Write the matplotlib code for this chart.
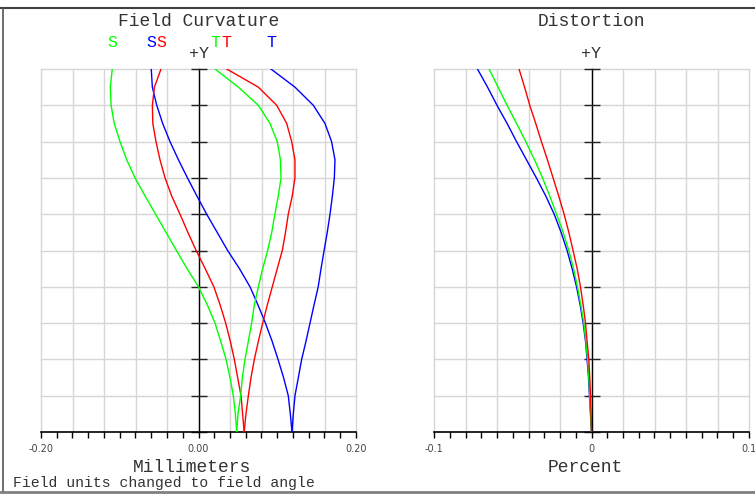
import numpy as np
import matplotlib
matplotlib.use('Agg')
import matplotlib.pyplot as plt
from matplotlib.lines import Line2D

# relative field (0 = axis, 1 = full field)
field_y = [0, 0.05, 0.1, 0.15, 0.2, 0.25, 0.3, 0.35, 0.4, 0.45, 0.5,
           0.55, 0.6, 0.65, 0.7, 0.75, 0.8, 0.85, 0.9, 0.95, 1.0]

# field curvature, millimeters
green_s = [0.0485, 0.0468, 0.0442, 0.040, 0.035, 0.0282, 0.021, 0.0112, 0.0, -0.0145, -0.0280,
           -0.0412, -0.0545, -0.0678, -0.0806, -0.0912, -0.0997, -0.107, -0.111, -0.112, -0.1095]
green_t = [0.0485, 0.0502, 0.0535, 0.0557, 0.059, 0.0633, 0.0675, 0.0709, 0.076, 0.0815, 0.0878,
           0.093, 0.097, 0.1013, 0.1048, 0.104, 0.1000, 0.0908, 0.076, 0.0506, 0.021]
red_s = [0.058, 0.056, 0.054, 0.0497, 0.0455, 0.0404, 0.0345, 0.0275, 0.0195, 0.0085, -0.003,
         -0.0135, -0.0235, -0.034, -0.0425, -0.0489, -0.054, -0.058, -0.0586, -0.056, -0.0476]
red_t = [0.058, 0.0603, 0.0633, 0.0667, 0.0709, 0.076, 0.0815, 0.0874, 0.0937, 0.100, 0.1064,
         0.1105, 0.114, 0.119, 0.1225, 0.1225, 0.1183, 0.112, 0.0993, 0.076, 0.0358]
blue_s = [0.1187, 0.1166, 0.114, 0.108, 0.101, 0.0935, 0.085, 0.0755, 0.0654, 0.052, 0.037,
          0.0237, 0.0104, -0.002, -0.014, -0.0255, -0.0362, -0.0455, -0.053, -0.0586, -0.060]
blue_t = [0.1187, 0.1204, 0.1225, 0.1268, 0.131, 0.1365, 0.1416, 0.1467, 0.152, 0.1556, 0.1595,
          0.1635, 0.167, 0.170, 0.1725, 0.1733, 0.169, 0.1606, 0.1458, 0.1225, 0.092]

# distortion, percent
dist_y = [0, 0.1, 0.15, 0.2, 0.25, 0.3, 0.35, 0.4, 0.45, 0.5,
          0.55, 0.6, 0.65, 0.7, 0.75, 0.8, 0.85, 0.9, 0.95, 1.0]
dist_blue = [0, -0.0013, -0.0019, -0.0028, -0.0038, -0.0053, -0.0072, -0.0095, -0.0123, -0.0155,
             -0.0193, -0.0237, -0.029, -0.035, -0.0413, -0.0476, -0.0536, -0.060, -0.066, -0.0724]
dist_green = [0, -0.0011, -0.0017, -0.0025, -0.0036, -0.0049, -0.0068, -0.0089, -0.0114, -0.0144,
              -0.018, -0.0222, -0.0265, -0.0311, -0.0362, -0.0417, -0.0476, -0.0536, -0.0593, -0.065]
dist_red = [0, -0.0006, -0.0011, -0.0017, -0.0028, -0.0038, -0.0053, -0.007, -0.0091, -0.0117,
            -0.0144, -0.0174, -0.0208, -0.0244, -0.028, -0.0318, -0.0354, -0.0392, -0.0425, -0.046]

BLUE = '#0000ff'
GREEN = '#00ff00'
RED = '#ff0000'
GRID = '#d6d6d6'
TXT = '#333333'
MONO = 'Liberation Mono'

W, H = 755, 495
fig = plt.figure(figsize=(W / 100, H / 100), dpi=100)


def setup_axes(ax, xlim, step, minor, labels):
    ax.set_xlim(*xlim)
    ax.set_ylim(0, 1)
    for v in np.arange(xlim[0], xlim[1] + step / 2, step):
        ax.axvline(v, color=GRID, lw=1.0, zorder=0, clip_on=False)
    for v in np.arange(0.1, 1.05, 0.1):
        ax.axhline(v, color=GRID, lw=1.0, zorder=0, clip_on=False)
    for s in ['top', 'right']:
        ax.spines[s].set_visible(False)
    ax.spines['left'].set_position(('data', 0))
    ax.spines['left'].set_color('black')
    ax.spines['left'].set_linewidth(1.0)
    ax.spines['left'].set_zorder(1)
    ax.spines['bottom'].set_color('black')
    ax.spines['bottom'].set_linewidth(1.2)
    ax.set_yticks(np.arange(0, 1.05, 0.1))
    ax.tick_params(axis='y', direction='inout', length=12, width=1.0,
                   color='#222222', labelleft=False)
    ax.set_xticks([xlim[0], 0, xlim[1]])
    ax.set_xticklabels(labels)
    ax.set_xticks(np.arange(xlim[0], xlim[1] + minor / 2, minor), minor=True)
    ax.tick_params(axis='x', which='both', direction='out', length=4.3,
                   width=1.0, color='black', pad=4, labelsize=7,
                   labelcolor='#444444')
    ax.set_facecolor('none')


ax1 = fig.add_axes([41 / W, 1 - 432 / H, 315 / W, 363 / H])
setup_axes(ax1, (-0.2, 0.2), 0.04, 0.02, ['-0.20', '0.00', '0.20'])

curves = [(green_s, GREEN, 'S'), (blue_s, BLUE, 'S'), (red_s, RED, 'S'),
          (green_t, GREEN, 'T'), (red_t, RED, 'T'), (blue_t, BLUE, 'T')]
for xs, c, lab in curves:
    ax1.plot(xs, field_y, color=c, lw=1.0, zorder=3)
    ax1.annotate(lab, xy=(xs[-1], 1.0), xytext=(0, 19), textcoords='offset points',
                 ha='center', va='center', color=c, fontsize=12, family=MONO,
                 annotation_clip=False)

ax2 = fig.add_axes([434 / W, 1 - 432 / H, 315 / W, 363 / H])
setup_axes(ax2, (-0.1, 0.1), 0.02, 0.01, ['-0.1', '0', '0.1'])
ax2.plot(dist_blue, dist_y, color=BLUE, lw=1.0, zorder=3)
ax2.plot(dist_green, dist_y, color=GREEN, lw=1.0, zorder=3)
ax2.plot(dist_red, dist_y, color=RED, lw=1.0, zorder=3)

for ax in (ax1, ax2):
    ax.annotate('+Y', xy=(0, 1.0), xytext=(0, 11.5), textcoords='offset points',
                ha='center', va='center', color=TXT, fontsize=12, family=MONO,
                annotation_clip=False)

fig.text(198.5 / W, 1 - 22 / H, 'Field Curvature', ha='center', va='center',
         fontsize=13, family=MONO, color=TXT)
fig.text(591.5 / W, 1 - 22 / H, 'Distortion', ha='center', va='center',
         fontsize=13, family=MONO, color=TXT)
fig.text(192 / W, 1 - 467 / H, 'Millimeters', ha='center', va='center',
         fontsize=13, family=MONO, color=TXT)
fig.text(585 / W, 1 - 467 / H, 'Percent', ha='center', va='center',
         fontsize=13, family=MONO, color=TXT)
fig.text(13 / W, 1 - 483 / H, 'Field units changed to field angle', ha='left',
         va='center', fontsize=10.6, family=MONO, color=TXT)

# window frame
fig.add_artist(Line2D([0, 1], [1 - 8 / H, 1 - 8 / H], color='#404040', lw=1.5))
fig.add_artist(Line2D([3 / W, 3 / W], [1 - 8 / H, 1 - 492 / H], color='#555555', lw=1.2))
fig.add_artist(Line2D([0, 1], [1 - 492 / H, 1 - 492 / H], color='#808080', lw=2))

fig.savefig('out.png', dpi=100)
